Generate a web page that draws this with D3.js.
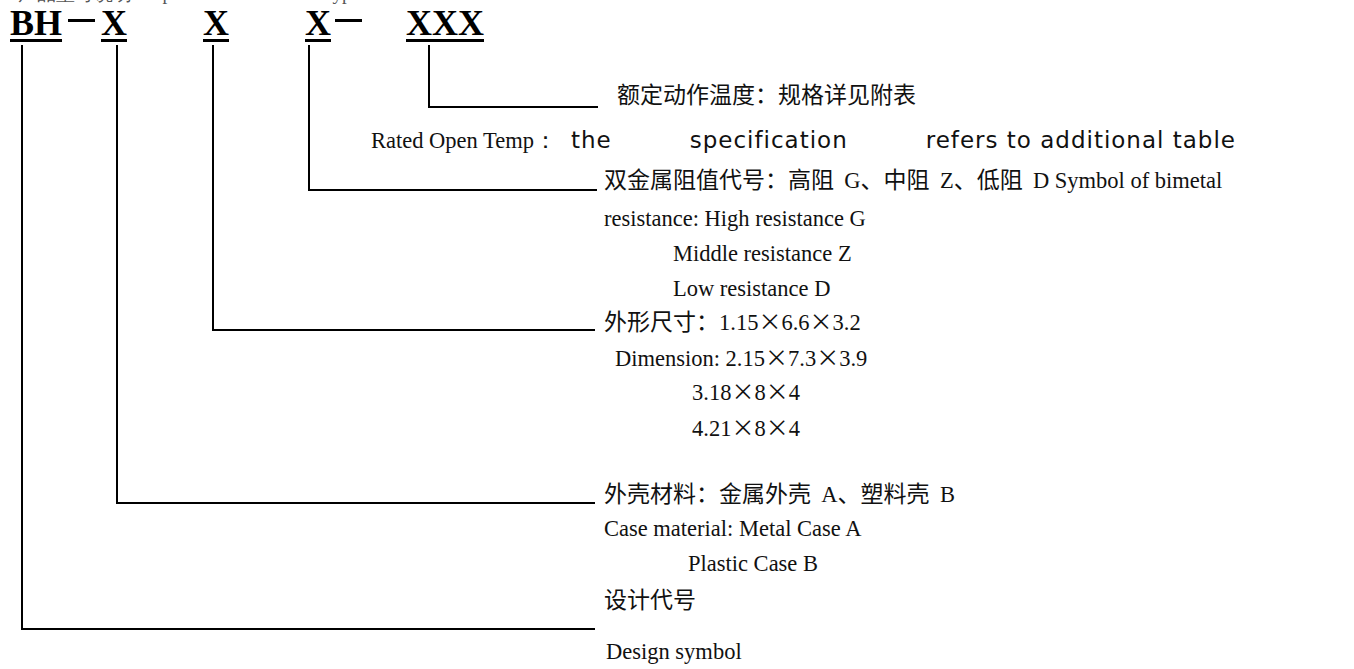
<!DOCTYPE html>
<html><head><meta charset="utf-8">
<script src="https://cdn.jsdelivr.net/npm/d3@7"></script>
<style>
html,body{margin:0;padding:0;background:#fff;}
svg{display:block;}
text{white-space:pre;}
.cjk{font-family:"Noto Sans CJK SC";font-size:23px;fill:#111;}
.lat{font-family:"Liberation Serif";font-size:22.5px;fill:#111;}
.sans{font-family:"DejaVu Sans";font-size:23px;letter-spacing:1px;fill:#111;}
.code{font-family:"Liberation Serif";font-weight:bold;font-size:36px;fill:#000;}
</style>
</head><body>
<svg id="c" width="1354" height="669"></svg>
<script>
// ---- data ----
const codeTokens = ["BH", "—", "X", "X", "X", "—", "XXX"];
const codeParts = ["BH", "X1", "X2", "X3", "XXX"];
const headerText = "产品型号说明  Explanation of Product Type";
// description lines per part: arrays of [text, style]
const descXXX = [
  [["额定动作温度：规格详见附表","cjk"]],
  [["Rated Open Temp：","lat"]]
];
const ratedWords = ["the", "specification", "refers to additional table"];
const descX3 = [
  [["双金属阻值代号：高阻  ","cjk"],["G","lat"],["、中阻  ","cjk"],["Z","lat"],["、低阻  ","cjk"],["D Symbol of bimetal","lat"]],
  [["resistance: High resistance G","lat"]],
  [["Middle resistance Z","lat"]],
  [["Low resistance D","lat"]]
];
const descX2 = [
  [["外形尺寸：","cjk"],["1.15","lat"],["×","cjk"],["6.6","lat"],["×","cjk"],["3.2","lat"]],
  [["Dimension: 2.15","lat"],["×","cjk"],["7.3","lat"],["×","cjk"],["3.9","lat"]],
  [["3.18","lat"],["×","cjk"],["8","lat"],["×","cjk"],["4","lat"]],
  [["4.21","lat"],["×","cjk"],["8","lat"],["×","cjk"],["4","lat"]]
];
const descX1 = [
  [["外壳材料：金属外壳  ","cjk"],["A","lat"],["、塑料壳  ","cjk"],["B","lat"]],
  [["Case material: Metal Case A","lat"]],
  [["Plastic Case B","lat"]]
];
const descBH = [
  [["设计代号","cjk"]],
  [["Design symbol","lat"]]
];

// ---- layout ----
const svg = d3.select("#c");
const tokenX = [10, 68, 101, 203, 305, 335, 406];
const baseY = 35;

// header (cut off at top edge)
svg.append("text").attr("x",18).attr("y",0)
  .style("font-family","Liberation Serif").style("font-size","19px").style("fill","#555")
  .text(headerText);

const tok = svg.selectAll("g.tok").data(codeTokens).join("g").attr("class","tok");
tok.each(function(d,i){
  const g = d3.select(this);
  if(d==="—"){
    g.append("rect").attr("x",tokenX[i]).attr("y",19).attr("width",27).attr("height",3).attr("fill","#000");
  } else {
    const t = g.append("text").attr("class","code").attr("x",tokenX[i]).attr("y",baseY).text(d);
    const bb = t.node().getBBox();
    g.append("rect").attr("x",bb.x).attr("y",baseY+4).attr("width",bb.width).attr("height",3).attr("fill","#000");
  }
});

// connectors
const partX = [22, 117, 213, 309, 429];
const partY = [629, 503, 330, 190, 107];
const lineEnd = [595, 595, 595, 597, 598];
svg.selectAll("path.conn").data(codeParts).join("path")
  .attr("class","conn")
  .attr("fill","none").attr("stroke","#000").attr("stroke-width",2)
  .attr("d",(d,i)=>`M${partX[i]},45V${partY[i]}H${lineEnd[i]}`);

// descriptions
function drawLines(lines, xs, ys){
  lines.forEach((segs,li)=>{
    const t = svg.append("text").attr("x",xs[li]).attr("y",ys[li]);
    t.selectAll("tspan").data(segs).join("tspan")
      .attr("class",d=>d[1]).text(d=>d[0]);
  });
}
drawLines([descXXX[0]], [617], [103]);
// rated open temp line: serif label + three spread-out sans words ending at right
{
  const lab = svg.append("text").attr("x",371).attr("y",148).attr("class","lat").text(descXXX[1][0][0]);
  const start = 371 + lab.node().getComputedTextLength() + 14;
  const end = 1236;
  const words = svg.selectAll("text.rw").data(ratedWords).join("text")
    .attr("class","sans rw").attr("y",148).text(d=>d);
  const ws = words.nodes().map(n=>n.getComputedTextLength());
  const gap = (end - start - d3.sum(ws)) / (ws.length - 1);
  let x = start;
  words.attr("x",(d,i)=>{ const r = x; x += ws[i] + gap; return r; });
}
drawLines(descX3, [604, 604, 673, 673], [188, 226, 261, 296]);
drawLines(descX2, [604, 615, 692, 692], [330, 366, 400, 436]);
drawLines(descX1, [604, 604, 688], [502, 536, 571]);
drawLines(descBH, [604, 606], [608, 659]);
</script>
</body></html>
